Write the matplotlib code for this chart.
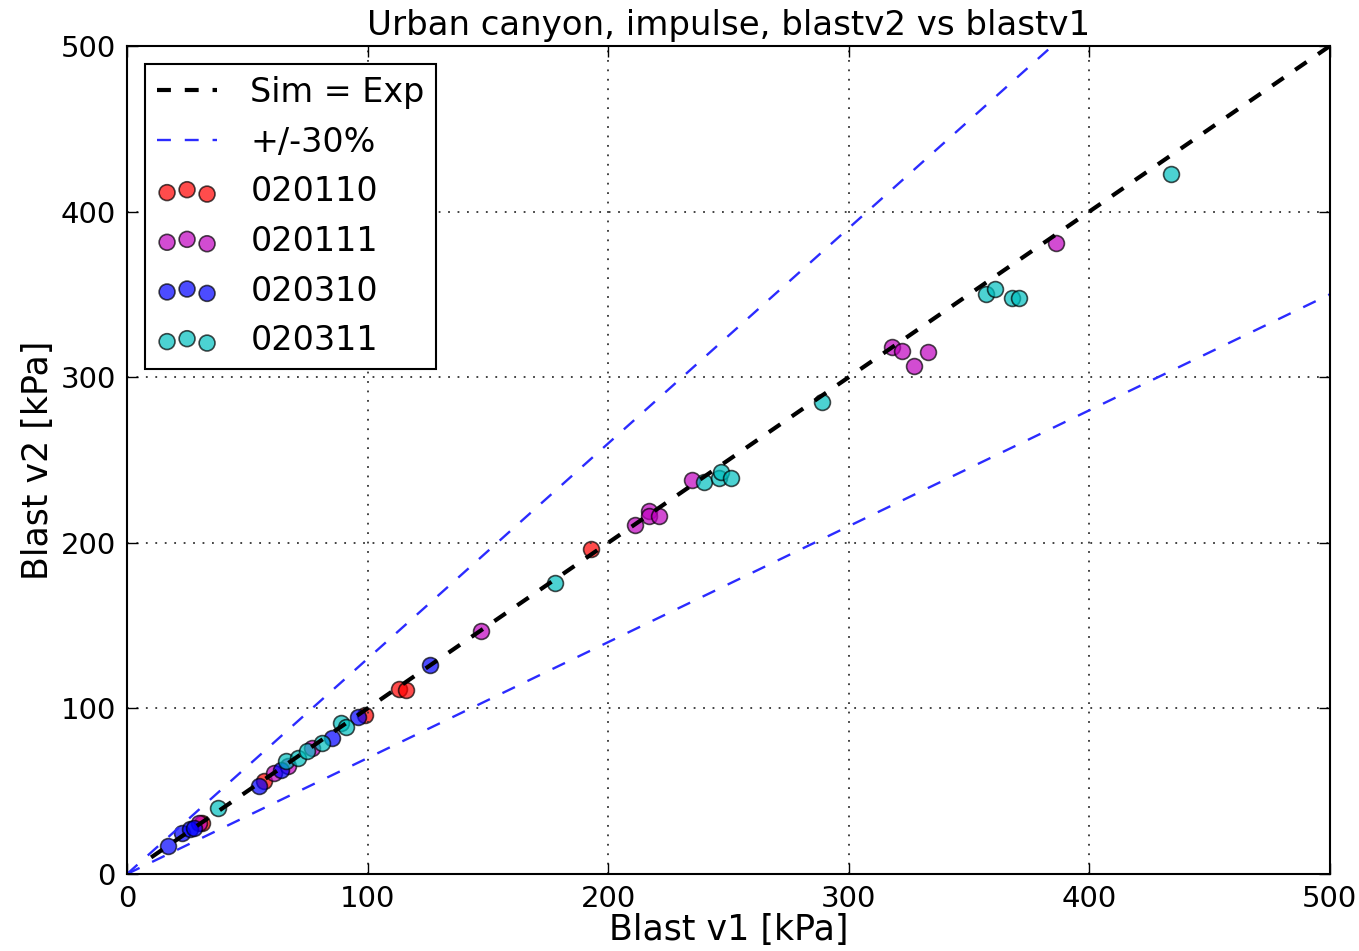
import matplotlib
matplotlib.use('Agg')
import matplotlib.pyplot as plt

# Blast v1 (x) vs Blast v2 (y), impulse [kPa]
x_020110 = [31, 57, 99, 113, 116, 193]
y_020110 = [31, 56, 96, 112, 111, 196]
x_020111 = [30, 61, 67, 77, 147, 211, 217, 217, 221, 235, 318, 322, 327, 333, 386]
y_020111 = [31, 61, 65, 76, 147, 211, 219, 216, 216, 238, 318, 316, 307, 315, 381]
x_020310 = [17, 23, 26, 28, 55, 64, 85, 96, 126]
y_020310 = [17, 25, 27, 28, 53, 63, 82, 95, 126]
x_020311 = [38, 66, 71, 75, 81, 89, 91, 178, 240, 246, 247, 251, 289, 357, 361, 368, 371, 434]
y_020311 = [40, 68, 70, 74, 79, 91, 89, 176, 237, 239, 243, 239, 285, 350, 353, 348, 348, 423]

series = [('020110', x_020110, y_020110, 'r'),
          ('020111', x_020111, y_020111, 'm'),
          ('020310', x_020310, y_020310, 'b'),
          ('020311', x_020311, y_020311, 'c')]

line_x = [10, 500]
band_x = [0, 500]
band = 0.3

plt.rcParams['lines.scale_dashes'] = False
fig = plt.figure(figsize=(13.59, 9.51), dpi=100)
ax = fig.add_axes([0.0935, 0.081, 0.885, 0.8706])

ax.plot(line_x, line_x, 'k--', lw=3, dashes=(10, 10), label='Sim = Exp')
ax.plot(band_x, [v * (1 + band) for v in band_x], '--', color='#2b2bff', lw=1.7, dashes=(10, 10), label='+/-30%')
ax.plot(band_x, [v * (1 - band) for v in band_x], '--', color='#2b2bff', lw=1.7, dashes=(10, 10))

for name, xs, ys, c in series:
    ax.scatter(xs, ys, s=130, c=c, alpha=0.7, edgecolors='k', linewidths=1.2, label=name)

ax.set_xlim(0, 500)
ax.set_ylim(0, 500)
ax.set_xticks(range(0, 501, 100))
ax.set_yticks(range(0, 501, 100))
ax.grid(True, color='#333333', linestyle=(0, (1.3, 5.5)), linewidth=1.3)
ax.tick_params(direction='in', top=True, right=True, length=8, width=1, labelsize=21, pad=8)
for sp in ax.spines.values():
    sp.set_linewidth(1.5)

ax.set_title('Urban canyon, impulse, blastv2 vs blastv1', fontsize=24.5, pad=8)
ax.set_xlabel('Blast v1 [kPa]', fontsize=25, labelpad=0)
ax.set_ylabel('Blast v2 [kPa]', fontsize=25, labelpad=4)

leg = ax.legend(loc='upper left', fontsize=24, scatterpoints=3, fancybox=False,
                framealpha=1, edgecolor='k', handlelength=1.8, handletextpad=1.0,
                labelspacing=0.5, borderaxespad=0.55, borderpad=0.35)
leg.get_frame().set_linewidth(1.5)

fig.savefig('out.png', dpi=100)
